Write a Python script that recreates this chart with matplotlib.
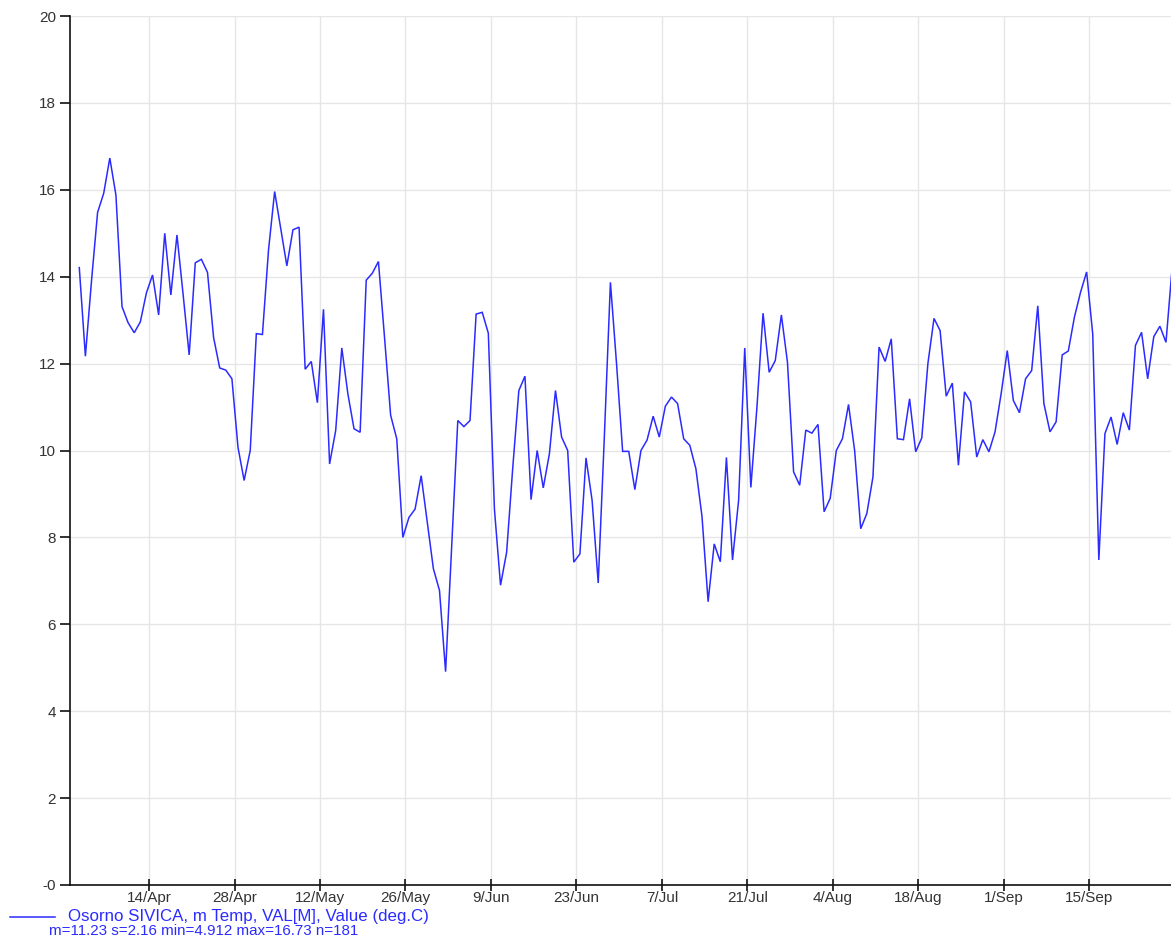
import datetime as dt
import matplotlib
matplotlib.use("Agg")
import matplotlib.pyplot as plt
from matplotlib.lines import Line2D

# ---- data ----
start_time = dt.datetime(2021, 4, 2, 13, 40)
temps = [
    14.21, 12.17, 13.9, 15.48, 15.92, 16.73, 15.88, 13.31, 12.94, 12.71,
    12.96, 13.63, 14.04, 13.12, 15.0, 13.58, 14.96, 13.6, 12.2, 14.32,
    14.4, 14.1, 12.6, 11.9, 11.85, 11.65, 10.07, 9.31, 10.0, 12.69,
    12.67, 14.62, 15.96, 15.1, 14.25, 15.08, 15.14, 11.87, 12.05, 11.1,
    13.25, 9.69, 10.46, 12.36, 11.3, 10.5, 10.42, 13.92, 14.08, 14.35,
    12.6, 10.81, 10.27, 8.0, 8.46, 8.65, 9.42, 8.35, 7.28, 6.78,
    4.91, 7.8, 10.69, 10.55, 10.69, 13.14, 13.18, 12.7, 8.65, 6.9,
    7.66, 9.6, 11.38, 11.71, 8.87, 10.0, 9.14, 9.92, 11.38, 10.31,
    10.0, 7.43, 7.62, 9.83, 8.85, 6.95, 10.3, 13.87, 12.0, 9.98,
    9.98, 9.1, 10.0, 10.24, 10.79, 10.31, 11.02, 11.23, 11.08, 10.27,
    10.12, 9.58, 8.48, 6.52, 7.85, 7.44, 9.84, 7.48, 8.86, 12.36,
    9.15, 11.0, 13.16, 11.8, 12.07, 13.12, 12.03, 9.51, 9.2, 10.47,
    10.4, 10.6, 8.59, 8.9, 10.0, 10.27, 11.06, 10.0, 8.2, 8.55,
    9.39, 12.38, 12.05, 12.57, 10.27, 10.25, 11.19, 9.97, 10.29, 12.0,
    13.04, 12.76, 11.25, 11.55, 9.66, 11.35, 11.12, 9.85, 10.25, 9.97,
    10.43, 11.31, 12.3, 11.15, 10.87, 11.65, 11.84, 13.33, 11.08, 10.43,
    10.66, 12.2, 12.29, 13.07, 13.64, 14.11, 12.68, 7.48, 10.39, 10.77,
    10.14, 10.87, 10.47, 12.42, 12.72, 11.65, 12.62, 12.86, 12.49, 14.2,
]
dates = [start_time + dt.timedelta(days=i) for i in range(len(temps))]

tick_dates = [dt.datetime(2021, 4, 14) + dt.timedelta(days=14 * i) for i in range(12)]
tick_labels = [f"{d.day}/{d.strftime('%b')}" for d in tick_dates]
y_ticks = list(range(0, 21, 2))
y_labels = ["-0"] + [str(v) for v in y_ticks[1:]]

legend_title = "Osorno SIVICA, m Temp, VAL[M], Value (deg.C)"
legend_stats = "m=11.23 s=2.16 min=4.912 max=16.73 n=181"

# ---- style ----
plt.rcParams["font.family"] = ["Liberation Sans", "DejaVu Sans"]
line_color = "#2b2bff"
text_color = "#333333"
grid_color = "#e6e6e6"

W, H = 1171, 940
fig = plt.figure(figsize=(W / 100, H / 100), dpi=100)
left_px, right_px, top_px, bottom_px = 69.7, 1171, 16, 885
ax = fig.add_axes([left_px / W, 1 - bottom_px / H, (right_px - left_px) / W, (bottom_px - top_px) / H])

ax.plot(dates, temps, color=line_color, linewidth=1.1, solid_joinstyle="miter")

x0 = dt.datetime(2021, 4, 1)
ax.set_xlim(x0, x0 + dt.timedelta(days=180.39))
ax.set_ylim(0, 20)

ax.set_xticks(tick_dates)
ax.set_xticklabels(tick_labels)
ax.set_yticks(y_ticks)
ax.set_yticklabels(y_labels)

ax.grid(True, color=grid_color, linewidth=1.0)
ax.set_axisbelow(True)
for s in ["top", "right"]:
    ax.spines[s].set_visible(False)
for s in ["left", "bottom"]:
    ax.spines[s].set_color("#111111")
    ax.spines[s].set_linewidth(1.2)

ax.tick_params(axis="y", direction="out", length=7, width=1.2, color="#111111",
               labelsize=11, labelcolor=text_color, pad=3)
ax.tick_params(axis="x", direction="inout", length=8, width=1.2, color="#111111",
               labelsize=11, labelcolor=text_color, pad=0)

# legend below
fig.add_artist(Line2D([10 / W, 55 / W], [1 - 917 / H, 1 - 917 / H], color=line_color, linewidth=1.1))
fig.text(68 / W, 1 - 916 / H, legend_title, color=line_color, fontsize=12.2, va="center", ha="left")
fig.text(49 / W, 1 - 931 / H, legend_stats, color=line_color, fontsize=10.9, va="center", ha="left")

fig.savefig("out.png", dpi=100)
